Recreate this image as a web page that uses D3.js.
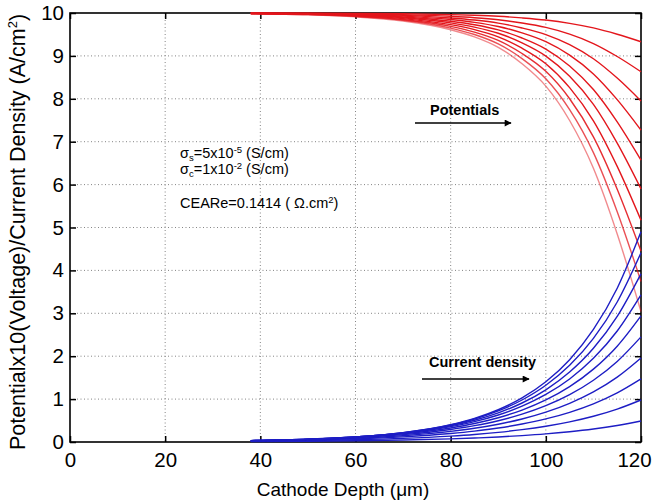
<!DOCTYPE html>
<html>
<head>
<meta charset="utf-8">
<script src="https://cdn.jsdelivr.net/npm/d3@7"></script>
<style>
  html, body { margin: 0; padding: 0; background: #fff; }
  svg { display: block; font-family: "Liberation Sans", Arial, Helvetica, sans-serif; }
</style>
</head>
<body>
<svg id="chart" width="665" height="500"></svg>
<script>
// Cathode depth (µm) at which each profile is sampled
const depth = [38, 50, 60, 70, 80, 85, 90, 95, 100, 105, 110, 115, 120];

// Potential x10 (V) profiles, one per operating case
const potential1  = [9.998, 9.996, 9.991, 9.982, 9.962, 9.946, 9.923, 9.886, 9.836, 9.759, 9.652, 9.504, 9.33];
const potential2  = [9.997, 9.992, 9.982, 9.963, 9.923, 9.890, 9.842, 9.767, 9.664, 9.507, 9.288, 8.986, 8.63];
const potential3  = [9.995, 9.988, 9.973, 9.945, 9.885, 9.836, 9.764, 9.651, 9.498, 9.262, 8.934, 8.483, 7.95];
const potential4  = [9.993, 9.984, 9.965, 9.926, 9.847, 9.782, 9.686, 9.536, 9.331, 9.017, 8.580, 7.980, 7.27];
const potential5  = [9.991, 9.979, 9.955, 9.907, 9.808, 9.726, 9.606, 9.417, 9.160, 8.765, 8.216, 7.462, 6.57];
const potential6  = [9.990, 9.975, 9.947, 9.889, 9.770, 9.672, 9.528, 9.303, 8.995, 8.524, 7.868, 6.966, 5.90];
const potential7  = [9.988, 9.971, 9.937, 9.870, 9.730, 9.614, 9.445, 9.179, 8.817, 8.261, 7.488, 6.426, 5.17];
const potential8  = [9.986, 9.967, 9.928, 9.850, 9.689, 9.556, 9.362, 9.056, 8.640, 8.002, 7.114, 5.893, 4.45];
const potential9  = [9.984, 9.962, 9.919, 9.831, 9.649, 9.499, 9.280, 8.936, 8.466, 7.746, 6.745, 5.368, 3.74];
const potential10 = [9.983, 9.958, 9.910, 9.812, 9.610, 9.443, 9.200, 8.817, 8.295, 7.494, 6.381, 4.850, 3.04];

// Current density (A/cm²) profiles
const current1  = [0.010, 0.017, 0.028, 0.045, 0.073, 0.093, 0.117, 0.149, 0.189, 0.240, 0.304, 0.386, 0.49];
const current2  = [0.018, 0.032, 0.052, 0.084, 0.138, 0.176, 0.225, 0.288, 0.368, 0.470, 0.600, 0.767, 0.98];
const current3  = [0.024, 0.044, 0.072, 0.119, 0.197, 0.253, 0.325, 0.419, 0.538, 0.692, 0.889, 1.144, 1.47];
const current4  = [0.028, 0.052, 0.088, 0.147, 0.247, 0.319, 0.414, 0.537, 0.696, 0.902, 1.168, 1.513, 1.96];
const current5  = [0.031, 0.059, 0.101, 0.171, 0.292, 0.381, 0.496, 0.648, 0.846, 1.103, 1.439, 1.877, 2.45];
const current6  = [0.032, 0.063, 0.109, 0.189, 0.327, 0.430, 0.566, 0.744, 0.980, 1.290, 1.698, 2.233, 2.94];
const current7  = [0.033, 0.066, 0.116, 0.203, 0.358, 0.475, 0.630, 0.836, 1.108, 1.470, 1.950, 2.587, 3.43];
const current8  = [0.032, 0.065, 0.117, 0.211, 0.378, 0.507, 0.679, 0.909, 1.217, 1.631, 2.184, 2.928, 3.92];
const current9  = [0.032, 0.065, 0.119, 0.218, 0.397, 0.536, 0.725, 0.979, 1.322, 1.787, 2.415, 3.264, 4.41];
const current10 = [0.029, 0.062, 0.115, 0.215, 0.402, 0.550, 0.752, 1.027, 1.404, 1.919, 2.623, 3.585, 4.90];

const potentialSeries = [potential1, potential2, potential3, potential4, potential5,
                         potential6, potential7, potential8, potential9, potential10];
const currentSeries = [current1, current2, current3, current4, current5,
                       current6, current7, current8, current9, current10];

// Axis ticks
const xTicks = [0, 20, 40, 60, 80, 100, 120];
const yTicks = [0, 1, 2, 3, 4, 5, 6, 7, 8, 9, 10];

const svg = d3.select("#chart");
const plotLeft = 70, plotRight = 641, plotTop = 13, plotBottom = 442;

const x = d3.scaleLinear().domain([0, 120]).range([plotLeft, plotRight]);
const y = d3.scaleLinear().domain([0, 10]).range([plotBottom, plotTop]);

// Dotted grid
const grid = svg.append("g").attr("stroke", "#444").attr("stroke-width", 1)
  .attr("stroke-dasharray", "1,2.5").attr("opacity", 0.65);
grid.selectAll("line.gx").data(xTicks.slice(1, -1)).join("line")
  .attr("x1", d => x(d)).attr("x2", d => x(d)).attr("y1", plotTop).attr("y2", plotBottom);
grid.selectAll("line.gy").data(yTicks.slice(1, -1)).join("line")
  .attr("y1", d => y(d)).attr("y2", d => y(d)).attr("x1", plotLeft).attr("x2", plotRight);

// Axes with inward ticks on all four sides
const tickLen = 6;
const fontTick = 20.5;
const axB = d3.axisBottom(x).tickValues(xTicks).tickSize(-tickLen).tickPadding(10).tickFormat(d3.format("d"));
const axT = d3.axisTop(x).tickValues(xTicks).tickSize(-tickLen).tickFormat("");
const axL = d3.axisLeft(y).tickValues(yTicks).tickSize(-tickLen).tickPadding(6).tickFormat(d3.format("d"));
const axR = d3.axisRight(y).tickValues(yTicks).tickSize(-tickLen).tickFormat("");

function styleAxis(g) {
  g.select(".domain").remove();
  g.selectAll(".tick line").attr("stroke", "#000").attr("stroke-width", 1.5);
  g.selectAll(".tick text").attr("fill", "#000").attr("font-size", fontTick)
    .attr("font-family", "'Liberation Sans', Arial, sans-serif");
}
const gBottom = svg.append("g").attr("transform", `translate(0,${plotBottom})`).call(axB).call(styleAxis);
// last label sits slightly inside the frame edge
gBottom.selectAll(".tick text").filter(d => d === 120).attr("dx", -7);
svg.append("g").attr("transform", `translate(0,${plotTop})`).call(axT).call(styleAxis);
svg.append("g").attr("transform", `translate(${plotLeft},0)`).call(axL).call(styleAxis);
svg.append("g").attr("transform", `translate(${plotRight},0)`).call(axR).call(styleAxis);

// Frame
svg.append("rect").attr("x", plotLeft).attr("y", plotTop)
  .attr("width", plotRight - plotLeft).attr("height", plotBottom - plotTop)
  .attr("fill", "none").attr("stroke", "#000").attr("stroke-width", 1.6);

// Profiles
const line = d3.line().x((d, i) => x(depth[i])).y(d => y(d)).curve(d3.curveMonotoneX);
const redOpacity = [1, 1, 1, 1, 1, 1, 1, 0.9, 0.75, 0.5];

svg.append("g").selectAll("path").data(potentialSeries).join("path")
  .attr("d", line).attr("fill", "none")
  .attr("stroke", "#e3161c").attr("stroke-width", 1.4)
  .attr("stroke-opacity", (d, i) => redOpacity[i]);

svg.append("g").selectAll("path").data(currentSeries).join("path")
  .attr("d", line).attr("fill", "none")
  .attr("stroke", "#1d1dc4").attr("stroke-width", 1.4);

// Axis titles
svg.append("text").attr("x", 343).attr("y", 496).attr("text-anchor", "middle")
  .attr("font-size", 19).text("Cathode Depth (μm)");

const yTitle = svg.append("text").attr("transform", "translate(25,232) rotate(-90)")
  .attr("text-anchor", "middle").attr("font-size", 21.5);
yTitle.append("tspan").text("Potentialx10(Voltage)/Current Density (A/cm");
yTitle.append("tspan").attr("dy", -8).attr("font-size", 13).text("2");
yTitle.append("tspan").attr("dy", 8).text(")");

// Parameter annotations
const ann = svg.append("g").attr("font-size", 14.5).attr("fill", "#000");
const a1 = ann.append("text").attr("x", 180).attr("y", 158);
a1.append("tspan").text("σ");
a1.append("tspan").attr("dy", 3).attr("font-size", 9.5).text("s");
a1.append("tspan").attr("dy", -3).text("=5x10");
a1.append("tspan").attr("dy", -5.5).attr("font-size", 9.5).text("-5");
a1.append("tspan").attr("dy", 5.5).text(" (S/cm)");

const a2 = ann.append("text").attr("x", 180).attr("y", 174);
a2.append("tspan").text("σ");
a2.append("tspan").attr("dy", 3).attr("font-size", 9.5).text("c");
a2.append("tspan").attr("dy", -3).text("=1x10");
a2.append("tspan").attr("dy", -5.5).attr("font-size", 9.5).text("-2");
a2.append("tspan").attr("dy", 5.5).text(" (S/cm)");

const a3 = ann.append("text").attr("x", 180).attr("y", 208);
a3.append("tspan").text("CEARe=0.1414 ( Ω.cm");
a3.append("tspan").attr("dy", -5.5).attr("font-size", 9.5).text("2");
a3.append("tspan").attr("dy", 5.5).text(")");

// Arrow labels
svg.append("defs").append("marker").attr("id", "head")
  .attr("viewBox", "0 0 10 10").attr("refX", 9).attr("refY", 5)
  .attr("markerWidth", 9).attr("markerHeight", 7).attr("markerUnits", "userSpaceOnUse")
  .attr("orient", "auto")
  .append("path").attr("d", "M0,0 L10,5 L0,10 Z").attr("fill", "#000");

svg.append("text").attr("x", 430).attr("y", 115).attr("font-size", 14.5)
  .attr("font-weight", "bold").text("Potentials");
svg.append("line").attr("x1", 415).attr("x2", 511).attr("y1", 123).attr("y2", 123)
  .attr("stroke", "#000").attr("stroke-width", 1.3).attr("marker-end", "url(#head)");

svg.append("text").attr("x", 429).attr("y", 367).attr("font-size", 14.5)
  .attr("font-weight", "bold").text("Current density");
svg.append("line").attr("x1", 422).attr("x2", 529).attr("y1", 379).attr("y2", 379)
  .attr("stroke", "#000").attr("stroke-width", 1.3).attr("marker-end", "url(#head)");
</script>
</body>
</html>
